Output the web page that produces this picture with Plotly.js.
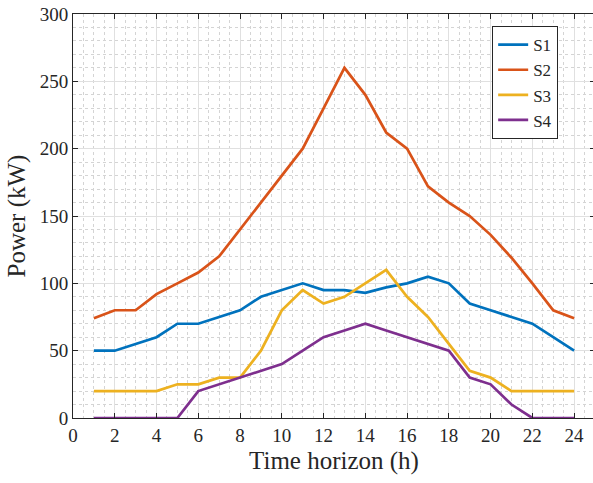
<!DOCTYPE html>
<html>
<head>
<meta charset="utf-8">
<script src="https://cdn.plot.ly/plotly-3.0.1.min.js"></script>
<style>
html,body{margin:0;padding:0;overflow:hidden;background:#fff;}
#chart{width:600px;height:483px;}
</style>
</head>
<body>
<div id="chart"></div>
<script>
const hours = [1,2,3,4,5,6,7,8,9,10,11,12,13,14,15,16,17,18,19,20,21,22,23,24];
const s1 = [50,50,55,60,70,70,75,80,90,95,100,95,95,93,97,100,105,100,85,80,75,70,60,50];
const s2 = [74,80,80,92,100,108,120,140,160,180,200,230,260,240,212,200,172,160,150,136,119,100,80,74];
const s3 = [20,20,20,20,25,25,30,30,50,80,95,85,90,100,110,90,75,55,35,30,20,20,20,20];
const s4 = [0,0,0,0,0,20,25,30,35,40,50,60,65,70,65,60,55,50,30,25,10,0,0,0];
const names = ['S1','S2','S3','S4'];
const colors = ['#0072BD','#D95319','#EDB120','#7E2F8E'];
const xTicks = [0,2,4,6,8,10,12,14,16,18,20,22,24];
const yTicks = [0,50,100,150,200,250,300];

const series = [s1,s2,s3,s4];
const traces = series.map((v,i)=>({
  x: hours, y: v, type:'scatter', mode:'lines', name:names[i],
  line:{color:colors[i], width:2.7}
}));

const FAM = 'Times New Roman';
const axisCommon = {
  showline:true, mirror:'ticks', linecolor:'#262626', linewidth:1,
  ticks:'inside', ticklen:5, tickcolor:'#262626',
  showgrid:true, gridcolor:'#e0e0e0', gridwidth:1,
  zeroline:false,
  tickfont:{family:FAM, size:19, color:'#262626'}
};
const layout = {
  width:600, height:483,
  margin:{l:73, r:5, t:14, b:65},
  paper_bgcolor:'#fff', plot_bgcolor:'#fff',
  font:{family:FAM, size:19, color:'#262626'},
  showlegend:true,
  legend:{x:0.803, y:0.97, xanchor:'left', yanchor:'top',
    bgcolor:'#fff', bordercolor:'#262626', borderwidth:1,
    font:{family:FAM, size:17, color:'#262626'},
    tracegroupgap:0},
  xaxis:Object.assign({}, axisCommon, {
    range:[0,25], tickmode:'array', tickvals:xTicks, ticktext:xTicks.map(String),
    minor:{dtick:0.5, showgrid:true, gridcolor:'#d4d4d4', griddash:'dot', gridwidth:1, ticks:''},
    title:{text:'Time horizon (h)', font:{family:FAM, size:25, color:'#262626'}, standoff:6}
  }),
  yaxis:Object.assign({}, axisCommon, {
    range:[0,300], tickmode:'array', tickvals:yTicks, ticktext:yTicks.map(String),
    minor:{dtick:10, showgrid:true, gridcolor:'#d4d4d4', griddash:'dot', gridwidth:1, ticks:''},
    title:{text:'Power (kW)', font:{family:FAM, size:25, color:'#262626'}, standoff:6}
  })
};
Plotly.newPlot('chart', traces, layout, {displayModeBar:false, staticPlot:true});
</script>
</body>
</html>
